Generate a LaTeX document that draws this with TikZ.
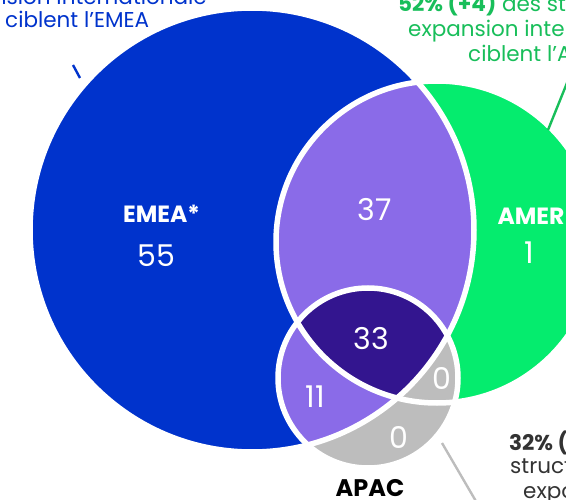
\documentclass[tikz,border=0pt]{standalone}
\usepackage{fontspec}
\setmainfont{Poppins}
\definecolor{emea}{RGB}{0,51,204}
\definecolor{amer}{RGB}{5,236,110}
\definecolor{lav}{RGB}{138,107,232}
\definecolor{deep}{RGB}{51,21,143}
\definecolor{apac}{RGB}{189,189,189}
\definecolor{gtext}{RGB}{24,190,90}
\definecolor{dtext}{RGB}{51,51,51}
\tikzset{
  num/.style={anchor=base, text=white, inner sep=0pt, font=\fontsize{30}{34}\selectfont},
  lbl/.style={anchor=base, text=white, inner sep=0pt, font=\bfseries\fontsize{23.5}{27}\selectfont},
  captxt/.style={anchor=base west, inner sep=0pt, font=\fontsize{21.5}{25}\selectfont},
  ring/.style={draw=white, line width=5.5pt},
  leader/.style={line width=2.4pt}
}
\begin{document}
\begin{tikzpicture}[x=1pt,y=-1pt]
\useasboundingbox (0,0) rectangle (566,500);
\coordinate (E) at (252,230);
\coordinate (A) at (437,242);
\coordinate (P) at (368,378);
% fills
\fill[emea] (E) circle (222pt);
\fill[amer] (A) circle (161pt);
\fill[apac] (P) circle (90pt);
\begin{scope}
  \clip (E) circle (222pt);
  \fill[lav] (A) circle (161pt);
  \fill[lav] (P) circle (90pt);
  \clip (A) circle (161pt);
  \fill[deep] (P) circle (90pt);
\end{scope}
% white outlines
\draw[ring] (E) circle (222pt);
\draw[ring] (A) circle (161pt);
\draw[ring] (P) circle (90pt);
% leaders
\coordinate (l1a) at (73,65);
\coordinate (l1b) at (80,78);
\draw[leader, emea] (l1a) -- (l1b);
\coordinate (l2a) at (548,130);
\coordinate (l2b) at (569,78);
\draw[leader, gtext] (l2a) -- (l2b);
\coordinate (l3a) at (442,443);
\coordinate (l3b) at (477,503);
\draw[leader, apac] (l3a) -- (l3b);
% region labels
\node[lbl] (emeaT) at (161.5,222.5) {EMEA*};
\node[num] (n55) at (156,267) {55};
\node[num] (n37) at (374.5,221) {37};
\node[lbl] (amerT) at (531,225) {AMER};
\node[num] (n1) at (529,264) {1};
\node[num] (n33) at (371.5,350) {33};
\node[num] (n11) at (315,408) {11};
\node[num] (n0a) at (441.5,390) {0};
\node[num] (n0b) at (398.5,448) {0};
\node[lbl, text=black, font=\bfseries\fontsize{24}{27}\selectfont] (apacT) at (370,496) {APAC};
% captions
\node[captxt, anchor=base east, text=emea] (c1a) at (207,5) {expansion internationale};
\node[captxt, text=emea] (c1b) at (5,28) {ciblent l’EMEA};
\node[captxt, text=gtext] (c2a) at (398,12) {\textbf{52\% (+4)} des st};
\node[captxt, text=gtext] (c2b) at (408,37) {expansion inter};
\node[captxt, text=gtext] (c2c) at (468,62) {ciblent l’A};
\node[captxt, text=dtext] (c3a) at (509,450) {\textbf{32\% (}};
\node[captxt, text=dtext] (c3b) at (510,473) {struct};
\node[captxt, text=dtext] (c3c) at (523,498) {expo};
\end{tikzpicture}
\end{document}
